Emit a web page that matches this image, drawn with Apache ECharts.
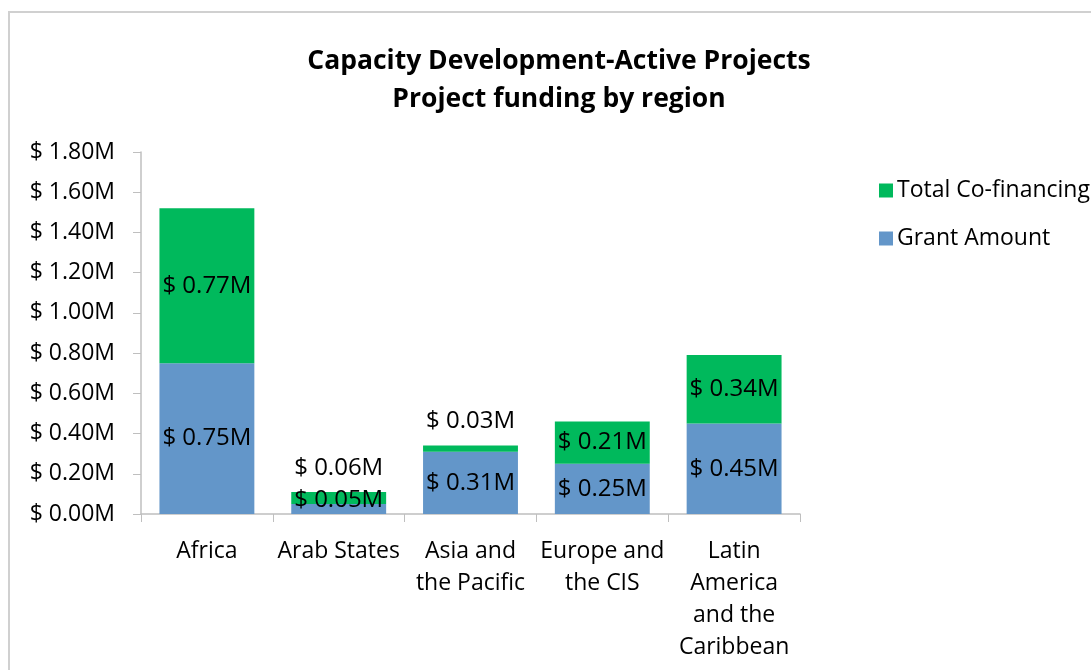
<!DOCTYPE html>
<html>
<head>
<meta charset="utf-8" />
<script src="https://cdn.jsdelivr.net/npm/echarts@6/dist/echarts.min.js"></script>
<style>
  html, body { margin: 0; padding: 0; background: #fff; }
  #frame {
    position: absolute; left: 8px; top: 11px; width: 1200px; height: 800px;
    border-left: 2px solid #d0d0d0; border-top: 2px solid #d0d0d0;
  }
  #chart { position: absolute; left: 0; top: 0; width: 1091px; height: 670px; }
</style>
</head>
<body>
<div id="frame"></div>
<div id="chart"></div>
<script>
// 数据
const regions = ["Africa", "Arab States", "Asia and\nthe Pacific", "Europe and\nthe CIS", "Latin\nAmerica\nand the\nCaribbean"];
const grantAmount = [0.75, 0.05, 0.31, 0.25, 0.45];
const coFinancing = [0.77, 0.06, 0.03, 0.21, 0.34];
const yTicks = [0, 0.2, 0.4, 0.6, 0.8, 1.0, 1.2, 1.4, 1.6, 1.8];

const font = "'Open Sans', 'Noto Sans', sans-serif";
const money = (v) => "$ " + v.toFixed(2) + "M";

const chart = echarts.init(document.getElementById("chart"));
chart.setOption({
  backgroundColor: "transparent",
  animation: false,
  textStyle: { fontFamily: font },
  title: {
    text: "Capacity Development-Active Projects\nProject funding by region",
    left: 554,
    textAlign: "center",
    top: 37,
    textStyle: { fontSize: 26.5, fontWeight: "bold", color: "#000", lineHeight: 38, fontFamily: font },
  },
  legend: {
    orient: "vertical",
    left: 874,
    top: 174,
    itemWidth: 14,
    itemHeight: 14,
    itemGap: 25,
    icon: "rect",
    data: ["Total Co-financing", "Grant Amount"],
    textStyle: { fontSize: 23, color: "#000", fontFamily: font, padding: [0, 0, 0, -1] },
  },
  grid: { left: 141, right: 291, top: 152, bottom: 156 },
  xAxis: {
    type: "category",
    data: regions,
    axisLine: { lineStyle: { color: "#bfbfbf", width: 1.5 } },
    axisTick: { show: true, length: 8, lineStyle: { color: "#bfbfbf" } },
    axisLabel: { fontSize: 23, color: "#000", lineHeight: 32, margin: 21, interval: 0 },
  },
  yAxis: {
    type: "value",
    min: yTicks[0],
    max: yTicks[yTicks.length - 1],
    interval: 0.2,
    splitLine: { show: false },
    axisLine: { show: true, lineStyle: { color: "#bfbfbf", width: 1.5 } },
    axisTick: { show: true, length: 8, lineStyle: { color: "#bfbfbf" } },
    axisLabel: { fontSize: 23, color: "#000", margin: 26, formatter: money },
  },
  series: [
    {
      name: "Grant Amount",
      type: "bar",
      stack: "total",
      barWidth: "72%",
      itemStyle: { color: "#6396c9" },
      label: { show: true, position: "inside", fontSize: 24, color: "#000", formatter: (p) => money(p.value) },
      // 很小的块标签稍微上移
      data: grantAmount.map((v) =>
        v < 0.1 ? { value: v, label: { offset: [0, -9] } } : v
      ),
    },
    {
      name: "Total Co-financing",
      type: "bar",
      stack: "total",
      itemStyle: { color: "#00b95c" },
      label: { show: true, position: "inside", fontSize: 24, color: "#000", formatter: (p) => money(p.value) },
      // 太小的块标签放在上方
      data: coFinancing.map((v) =>
        v < 0.1 ? { value: v, label: { position: "top", distance: 12 } } : v
      ),
    },
  ],
});
</script>
</body>
</html>
